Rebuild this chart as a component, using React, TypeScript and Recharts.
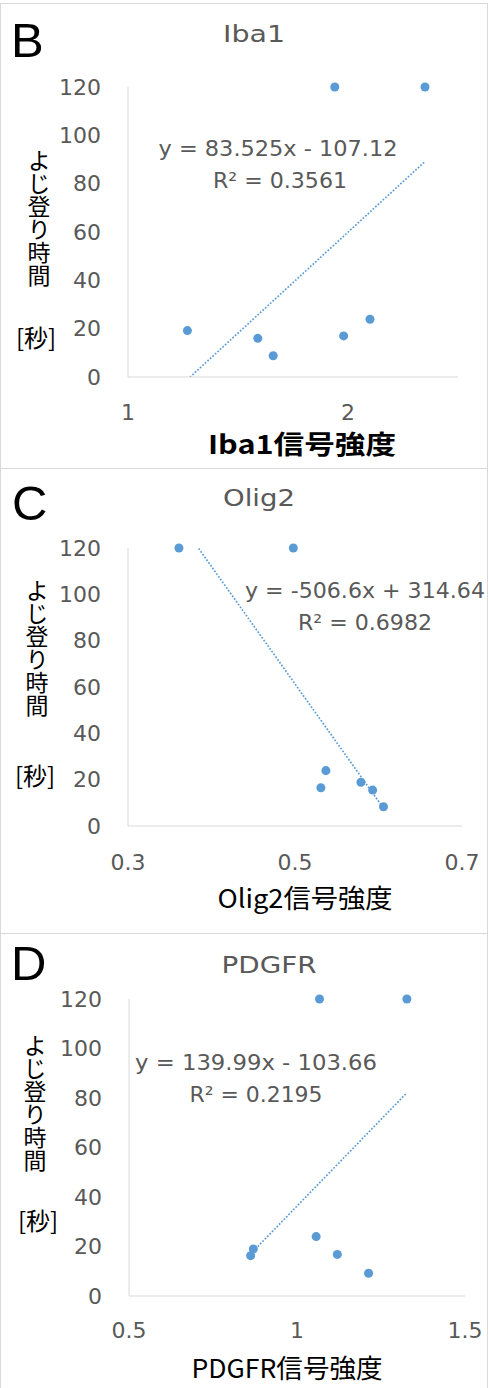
import { ScatterChart, Scatter, XAxis, YAxis, ZAxis, ReferenceLine } from 'recharts';

// climbing time [s] vs. signal intensity, one array pair per marker
const ibaSignal = [1.27, 1.59, 1.66, 1.94, 1.98, 2.1, 2.35];
const ibaTime = [19.2, 16.0, 8.8, 120, 17.0, 23.9, 120];

const oligSignal = [0.361, 0.498, 0.531, 0.537, 0.579, 0.593, 0.606];
const oligTime = [120, 120, 16.5, 23.9, 18.9, 15.5, 8.3];

const pdgfrSignal = [0.862, 0.87, 1.057, 1.067, 1.12, 1.213, 1.327];
const pdgfrTime = [16.3, 19.0, 24.0, 120, 16.8, 9.2, 120];

const panelLetters = ['B', 'C', 'D'];
const markerNames = ['Iba1', 'Olig2', 'PDGFR'];
const slopes = [83.525, -506.6, 139.99];
const intercepts = [-107.12, 314.64, -103.66];
const rSquared = ['0.3561', '0.6982', '0.2195'];

const xDomains = [[1, 2.5], [0.3, 0.7], [0.5, 1.5]];
const xTicks = [[1, 2], [0.3, 0.5, 0.7], [0.5, 1, 1.5]];
const yTicks = [0, 20, 40, 60, 80, 100, 120];

const yLabel = 'よじ登り時間';
const unitLabel = '[秒]';
const xLabelSuffix = '信号強度';

const BLUE = '#5b9bd5';
const GREY = '#595959';
const LATIN = 'DejaVu Sans';
const CJK = '"Noto Sans CJK JP"';

// layout of each panel (pixels, relative to the panel's top)
const layouts = [
  {
    top: 3, plotTop: 84, plotBottom: 374, left: 128, right: 30, xTickMargin: 27,
    letterX: 11, letterY: 54,
    titleX: 254, titleY: 39, titleW: 62,
    eqX: 278, eqY: 153, eqW: 239, r2X: 280, r2Y: 185, r2W: 134,
    yLabX: 39, yLabTop: 146, unitX: 36, unitY: 344,
    xLabX: 302, xLabY: 451, xLabW: 188, xLabBold: true,
  },
  {
    top: 468, plotTop: 80, plotBottom: 358, left: 128, right: 26, xTickMargin: 28,
    letterX: 12, letterY: 52,
    titleX: 259, titleY: 38, titleW: 72,
    eqX: 365, eqY: 130, eqW: 240, r2X: 365, r2Y: 162, r2W: 134,
    yLabX: 37, yLabTop: 111, unitX: 35, unitY: 317,
    xLabX: 305, xLabY: 440, xLabW: 175, xLabBold: false,
  },
  {
    top: 933, plotTop: 66, plotBottom: 363, left: 129, right: 23, xTickMargin: 26,
    letterX: 11, letterY: 47,
    titleX: 269, titleY: 40, titleW: 95,
    eqX: 256, eqY: 137, eqW: 242, r2X: 256, r2Y: 169, r2W: 133,
    yLabX: 35, yLabTop: 101, unitX: 38, unitY: 297,
    xLabX: 287, xLabY: 445, xLabW: 191, xLabBold: false,
  },
];

const PANEL_W = 488;
const PANEL_H = 465;
const X_AXIS_H = 40;

function Panel({ idx, xs, ys }: { idx: number; xs: number[]; ys: number[] }) {
  const L = layouts[idx];
  const data = xs.map((x, k) => ({ x, y: ys[k] }));
  const m = slopes[idx];
  const b = intercepts[idx];
  const xMin = Math.min(...xs);
  const xMax = Math.max(...xs);
  const equation = `y = ${m}x ${b < 0 ? '-' : '+'} ${Math.abs(b)}`;

  return (
    <div style={{ position: 'absolute', left: 0, top: L.top, width: PANEL_W, height: PANEL_H }}>
      <div
        style={{
          position: 'absolute', left: 0, top: 0, width: PANEL_W, height: PANEL_H + 1,
          boxSizing: 'border-box', border: '1px solid #d9d9d9',
        }}
      />
      <div style={{ position: 'absolute', left: 0, top: 0 }}>
        <ScatterChart
          width={PANEL_W}
          height={PANEL_H}
          margin={{ top: L.plotTop, right: L.right, bottom: PANEL_H - L.plotBottom - X_AXIS_H, left: 0 }}
        >
          <XAxis
            type="number"
            dataKey="x"
            domain={xDomains[idx]}
            ticks={xTicks[idx]}
            interval={0}
            height={X_AXIS_H}
            tickLine={false}
            tickSize={0}
            tickMargin={L.xTickMargin}
            axisLine={{ stroke: '#d9d9d9', strokeWidth: 1 }}
            tick={{ fill: GREY, fontSize: 22, fontFamily: LATIN }}
          />
          <YAxis
            type="number"
            dataKey="y"
            domain={[0, 120]}
            ticks={yTicks}
            interval={0}
            width={L.left}
            tickLine={false}
            tickSize={0}
            tickMargin={27}
            axisLine={{ stroke: '#d9d9d9', strokeWidth: 1 }}
            tick={{ fill: GREY, fontSize: 22, fontFamily: LATIN }}
          />
          <ZAxis range={[76, 76]} />
          <ReferenceLine
            segment={[
              { x: xMin, y: m * xMin + b },
              { x: xMax, y: m * xMax + b },
            ]}
            ifOverflow="hidden"
            stroke={BLUE}
            strokeWidth={1.7}
            strokeDasharray="1.7 1.7"
          />
          <Scatter data={data} fill={BLUE} isAnimationActive={false} />
        </ScatterChart>
      </div>
      <svg
        width={PANEL_W}
        height={PANEL_H}
        style={{ position: 'absolute', left: 0, top: 0, pointerEvents: 'none' }}
      >
        <text x={L.letterX} y={L.letterY} fontSize={49} fontFamily="Liberation Sans" fill="#000">
          {panelLetters[idx]}
        </text>
        <text
          x={L.titleX} y={L.titleY} textAnchor="middle" fontSize={23} fontFamily={LATIN} fill={GREY}
          textLength={L.titleW} lengthAdjust="spacingAndGlyphs"
        >
          {markerNames[idx]}
        </text>
        <text
          x={L.eqX} y={L.eqY} textAnchor="middle" fontSize={21} fontFamily={LATIN} fill={GREY}
          textLength={L.eqW} lengthAdjust="spacingAndGlyphs"
        >
          {equation}
        </text>
        <text
          x={L.r2X} y={L.r2Y} textAnchor="middle" fontSize={21} fontFamily={LATIN} fill={GREY}
          textLength={L.r2W} lengthAdjust="spacingAndGlyphs"
        >
          {`R² = ${rSquared[idx]}`}
        </text>
        <text
          x={L.yLabX} y={L.yLabTop} fontSize={23} fontFamily={CJK} fill="#000"
          style={{ writingMode: 'vertical-rl' }}
        >
          {yLabel}
        </text>
        <text x={L.unitX} y={L.unitY} textAnchor="middle" fontSize={24} fontFamily={CJK} fill="#000">
          {unitLabel}
        </text>
        <text
          x={L.xLabX} y={L.xLabY} textAnchor="middle" fontSize={26} fontFamily={CJK}
          fontWeight={L.xLabBold ? 700 : 400} fill="#000"
          textLength={L.xLabW} lengthAdjust="spacingAndGlyphs"
        >
          {markerNames[idx] + xLabelSuffix}
        </text>
      </svg>
    </div>
  );
}

export default function App() {
  return (
    <div
      style={{
        position: 'absolute', left: 0, top: 0, width: PANEL_W, height: 1388,
        background: '#fff', overflow: 'hidden',
      }}
    >
      <Panel idx={0} xs={ibaSignal} ys={ibaTime} />
      <Panel idx={1} xs={oligSignal} ys={oligTime} />
      <Panel idx={2} xs={pdgfrSignal} ys={pdgfrTime} />
    </div>
  );
}
